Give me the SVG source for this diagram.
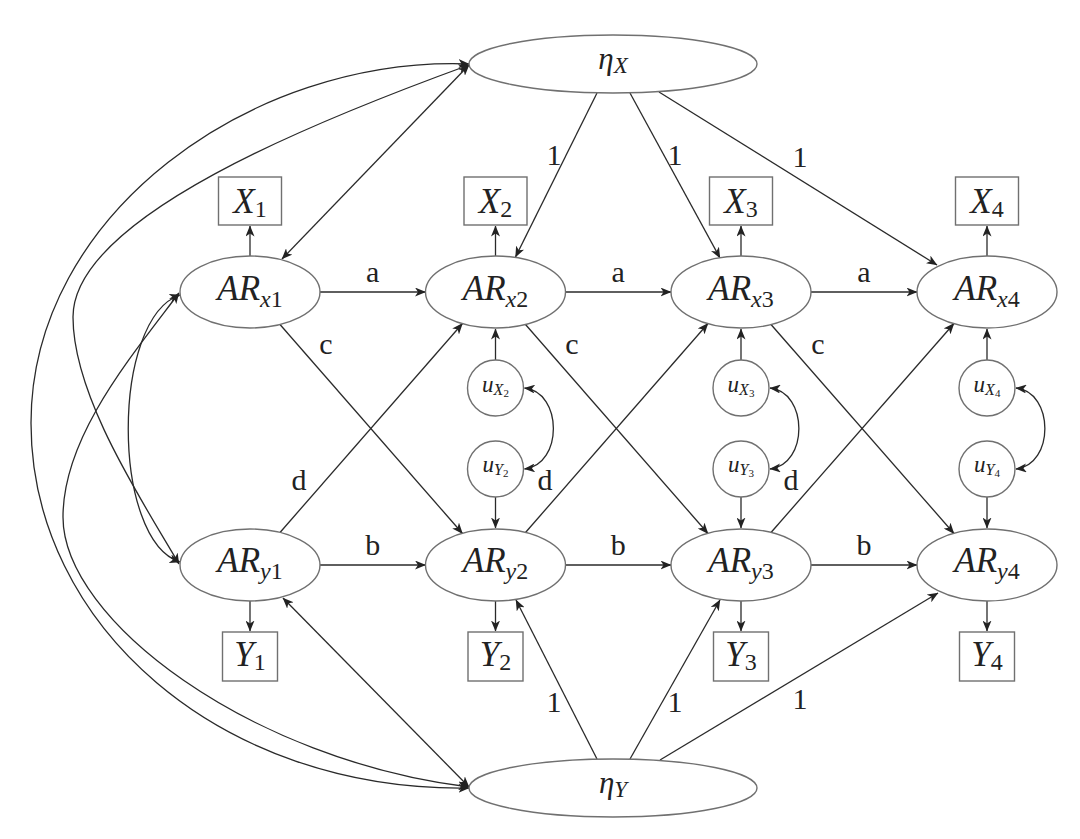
<svg xmlns="http://www.w3.org/2000/svg" width="1080" height="839" viewBox="0 0 1080 839" font-family="'Liberation Serif', 'DejaVu Serif', serif">
<style>
.nd{fill:#fff;stroke:#707070;stroke-width:1.4}
.e{fill:none;stroke:#2a2a2a;stroke-width:1.3;marker-end:url(#ah)}
.e2{fill:none;stroke:#2a2a2a;stroke-width:1.3;marker-start:url(#ah);marker-end:url(#ah)}
text{font-family:'Liberation Serif','DejaVu Serif',serif;fill:#222}
.it{font-style:italic}
.big{font-size:35px;text-anchor:middle}
.box{font-size:35px;text-anchor:middle}
.eta{font-size:31px;text-anchor:middle}
.u{font-size:23px;text-anchor:middle}
.lb{font-size:30px;text-anchor:middle}
</style>
<defs>
<marker id="ah" viewBox="0 0 11 9" refX="10.5" refY="4.5" markerWidth="11" markerHeight="9" markerUnits="userSpaceOnUse" orient="auto-start-reverse">
<path d="M0,0 L11,4.5 L0,9 L3,4.5 Z" fill="#222"/>
</marker>
</defs>
<rect width="1080" height="839" fill="#fff"/>

<g id="connectors">
<path class="e" d="M250,256 L250,226"/>
<path class="e" d="M495.5,256 L495.5,226"/>
<path class="e" d="M741,256 L741,226"/>
<path class="e" d="M987,256 L987,226"/>
<path class="e" d="M250,601 L250,631"/>
<path class="e" d="M495.5,601 L495.5,631"/>
<path class="e" d="M741,601 L741,631"/>
<path class="e" d="M987,601 L987,631"/>
<path class="e" d="M495.5,360 L495.5,329"/>
<path class="e" d="M741,360 L741,329"/>
<path class="e" d="M987,360 L987,329"/>
<path class="e" d="M495.5,497 L495.5,528"/>
<path class="e" d="M741,497 L741,528"/>
<path class="e" d="M987,497 L987,528"/>
<path class="e2" d="M524.5,388 C563,392 563,465 524.5,469"/>
<path class="e2" d="M770,388 C808.5,392 808.5,465 770,469"/>
<path class="e2" d="M1016,388 C1054.5,392 1054.5,465 1016,469"/>
<path class="e" d="M320,292 L425.5,292"/>
<path class="e" d="M565.5,292 L671,292"/>
<path class="e" d="M811,292 L917,292"/>
<path class="e" d="M320,565 L425.5,565"/>
<path class="e" d="M565.5,565 L671,565"/>
<path class="e" d="M811,565 L917,565"/>
<path class="e" d="M280,324.5 L462.5,533.5"/>
<path class="e" d="M525.5,324.5 L708,533.5"/>
<path class="e" d="M771,324.5 L954,533.5"/>
<path class="e" d="M280,532.5 L462.5,323.5"/>
<path class="e" d="M525.5,532.5 L708,323.5"/>
<path class="e" d="M771,532.5 L954,323.5"/>
<path class="e" d="M597,93 L515.5,257"/>
<path class="e" d="M630,93 L720,258"/>
<path class="e" d="M659,92 L937,265"/>
<path class="e" d="M597,759 L516,600"/>
<path class="e" d="M630,759 L720,600"/>
<path class="e" d="M660,760 L938,593"/>
<path class="e2" d="M469,65 L282,259"/>
<path class="e2" d="M469,787 L283,598"/>
<path class="e2" d="M469,64 C250,56 31,215 31,423 C31,625 220,792 469,788"/>
<path class="e2" d="M469,65 C318,120 73,217 73,317 C73,397 143,502 179,564"/>
<path class="e2" d="M179,293 C130,358 63,437 63,517 C63,620 250,760 469,787"/>
<path class="e2" d="M180,295 C111,318 111,540 180,562"/>
</g>

<g id="labels">
<text class="lb" x="372.75" y="282">a</text>
<text class="lb" x="618.25" y="282">a</text>
<text class="lb" x="864" y="282">a</text>
<text class="lb" x="372.75" y="555">b</text>
<text class="lb" x="618.25" y="555">b</text>
<text class="lb" x="864" y="555">b</text>
<text class="lb" x="326" y="354">c</text>
<text class="lb" x="572" y="354">c</text>
<text class="lb" x="818" y="354">c</text>
<text class="lb" x="299" y="490">d</text>
<text class="lb" x="545" y="490">d</text>
<text class="lb" x="791" y="490">d</text>
<text class="lb" x="554" y="165">1</text>
<text class="lb" x="675" y="165">1</text>
<text class="lb" x="800" y="167">1</text>
<text class="lb" x="554" y="712">1</text>
<text class="lb" x="675" y="712">1</text>
<text class="lb" x="800" y="709">1</text>
</g>

<g id="etaX"><ellipse class="nd" cx="613" cy="64" rx="144" ry="29"/><text class="eta" x="613" y="69"><tspan class="it">η</tspan><tspan class="it" font-size="23" dy="4">X</tspan></text></g>
<g id="etaY"><ellipse class="nd" cx="613" cy="788" rx="144" ry="29"/><text class="eta" x="613" y="793"><tspan class="it">η</tspan><tspan class="it" font-size="23" dy="4">Y</tspan></text></g>

<g id="ARx1"><ellipse class="nd" cx="250" cy="292" rx="70" ry="36"/><text class="big" x="250" y="300"><tspan class="it">AR</tspan><tspan font-size="24" dy="7"><tspan class="it">x</tspan>1</tspan></text></g>
<g id="ARx2"><ellipse class="nd" cx="495.5" cy="292" rx="70" ry="36"/><text class="big" x="495.5" y="300"><tspan class="it">AR</tspan><tspan font-size="24" dy="7"><tspan class="it">x</tspan>2</tspan></text></g>
<g id="ARx3"><ellipse class="nd" cx="741" cy="292" rx="70" ry="36"/><text class="big" x="741" y="300"><tspan class="it">AR</tspan><tspan font-size="24" dy="7"><tspan class="it">x</tspan>3</tspan></text></g>
<g id="ARx4"><ellipse class="nd" cx="987" cy="292" rx="70" ry="36"/><text class="big" x="987" y="300"><tspan class="it">AR</tspan><tspan font-size="24" dy="7"><tspan class="it">x</tspan>4</tspan></text></g>

<g id="ARy1"><ellipse class="nd" cx="250" cy="565" rx="70" ry="36"/><text class="big" x="250" y="572"><tspan class="it">AR</tspan><tspan font-size="24" dy="7"><tspan class="it">y</tspan>1</tspan></text></g>
<g id="ARy2"><ellipse class="nd" cx="495.5" cy="565" rx="70" ry="36"/><text class="big" x="495.5" y="572"><tspan class="it">AR</tspan><tspan font-size="24" dy="7"><tspan class="it">y</tspan>2</tspan></text></g>
<g id="ARy3"><ellipse class="nd" cx="741" cy="565" rx="70" ry="36"/><text class="big" x="741" y="572"><tspan class="it">AR</tspan><tspan font-size="24" dy="7"><tspan class="it">y</tspan>3</tspan></text></g>
<g id="ARy4"><ellipse class="nd" cx="987" cy="565" rx="70" ry="36"/><text class="big" x="987" y="572"><tspan class="it">AR</tspan><tspan font-size="24" dy="7"><tspan class="it">y</tspan>4</tspan></text></g>

<g id="X1"><rect class="nd" x="218.5" y="177" width="63" height="48"/><text class="box" x="250" y="213"><tspan class="it">X</tspan><tspan font-size="24" dy="4">1</tspan></text></g>
<g id="X2"><rect class="nd" x="464" y="177" width="63" height="48"/><text class="box" x="495.5" y="213"><tspan class="it">X</tspan><tspan font-size="24" dy="4">2</tspan></text></g>
<g id="X3"><rect class="nd" x="709.5" y="177" width="63" height="48"/><text class="box" x="741" y="213"><tspan class="it">X</tspan><tspan font-size="24" dy="4">3</tspan></text></g>
<g id="X4"><rect class="nd" x="955.5" y="177" width="63" height="48"/><text class="box" x="987" y="213"><tspan class="it">X</tspan><tspan font-size="24" dy="4">4</tspan></text></g>

<g id="Y1"><rect class="nd" x="222.5" y="632" width="55" height="49"/><text class="box" x="250" y="666"><tspan class="it">Y</tspan><tspan font-size="24" dy="4">1</tspan></text></g>
<g id="Y2"><rect class="nd" x="468" y="632" width="55" height="49"/><text class="box" x="495.5" y="666"><tspan class="it">Y</tspan><tspan font-size="24" dy="4">2</tspan></text></g>
<g id="Y3"><rect class="nd" x="713.5" y="632" width="55" height="49"/><text class="box" x="741" y="666"><tspan class="it">Y</tspan><tspan font-size="24" dy="4">3</tspan></text></g>
<g id="Y4"><rect class="nd" x="959.5" y="632" width="55" height="49"/><text class="box" x="987" y="666"><tspan class="it">Y</tspan><tspan font-size="24" dy="4">4</tspan></text></g>

<g id="uX2"><circle class="nd" cx="495.5" cy="388" r="28"/><text class="u" x="495.5" y="392"><tspan class="it">u</tspan><tspan class="it" font-size="16" dy="3">X</tspan><tspan font-size="11" dy="2">2</tspan></text></g>
<g id="uX3"><circle class="nd" cx="741" cy="388" r="28"/><text class="u" x="741" y="392"><tspan class="it">u</tspan><tspan class="it" font-size="16" dy="3">X</tspan><tspan font-size="11" dy="2">3</tspan></text></g>
<g id="uX4"><circle class="nd" cx="987" cy="388" r="28"/><text class="u" x="987" y="392"><tspan class="it">u</tspan><tspan class="it" font-size="16" dy="3">X</tspan><tspan font-size="11" dy="2">4</tspan></text></g>
<g id="uY2"><circle class="nd" cx="495.5" cy="469" r="28"/><text class="u" x="495.5" y="472"><tspan class="it">u</tspan><tspan class="it" font-size="16" dy="3">Y</tspan><tspan font-size="11" dy="2">2</tspan></text></g>
<g id="uY3"><circle class="nd" cx="741" cy="469" r="28"/><text class="u" x="741" y="472"><tspan class="it">u</tspan><tspan class="it" font-size="16" dy="3">Y</tspan><tspan font-size="11" dy="2">3</tspan></text></g>
<g id="uY4"><circle class="nd" cx="987" cy="469" r="28"/><text class="u" x="987" y="472"><tspan class="it">u</tspan><tspan class="it" font-size="16" dy="3">Y</tspan><tspan font-size="11" dy="2">4</tspan></text></g>
</svg>
